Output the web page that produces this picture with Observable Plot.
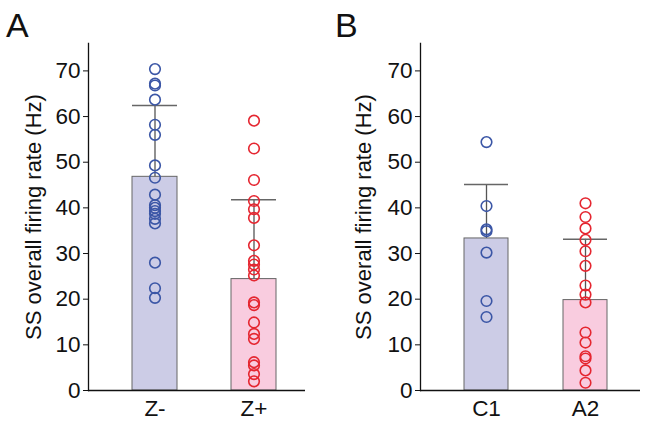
<!DOCTYPE html>
<html>
<head>
<meta charset="utf-8">
<script src="https://cdn.jsdelivr.net/npm/d3@7"></script>
<script src="https://cdn.jsdelivr.net/npm/@observablehq/plot@0.6"></script>
<style>
  body { margin: 0; background: #fff; font-family: "Liberation Sans", Arial, sans-serif; }
  #wrap { position: relative; width: 661px; height: 431px; display: flex; }
  .letter { position: absolute; top: 8px; font-size: 34px; line-height: 1; color: #111; font-family: "Liberation Sans", Arial, sans-serif; }
  svg { display: block; }
</style>
</head>
<body>
<div id="wrap">
  <div class="letter" style="left:6px">A</div>
  <div class="letter" style="left:335px">B</div>
</div>
<script>
// Panel A
const catsA = ["Z-", "Z+"];
const meanA = [46.8, 24.4];
const sdA = [15.6, 17.4];
const zMinus = [70.4, 67.2, 66.8, 63.7, 58.2, 56.0, 49.3, 46.6, 42.9, 40.6, 40.0, 39.3, 38.7, 37.6, 36.6, 28.0, 22.4, 20.3];
const zPlus = [59.1, 53.0, 46.1, 41.5, 39.7, 37.8, 31.8, 28.4, 27.6, 26.5, 25.2, 19.3, 18.7, 14.9, 12.4, 11.3, 6.2, 5.5, 3.6, 2.0];

// Panel B
const catsB = ["C1", "A2"];
const meanB = [33.3, 19.8];
const sdB = [11.8, 13.3];
const c1 = [54.4, 40.4, 35.3, 34.9, 30.2, 19.6, 16.1];
const a2 = [41.0, 38.0, 35.5, 33.0, 30.5, 27.3, 23.0, 21.0, 19.3, 12.7, 10.5, 7.5, 7.0, 4.4, 1.7];

const yTicks = [0, 10, 20, 30, 40, 50, 60, 70];
const yLabel = "SS overall firing rate (Hz)";

const barFills = ["#ccccE6", "#F9CCDF"];
const dotStrokes = ["#3B56A6", "#E52630"];

function panel({cats, means, sds, groups, width, marginLeft, marginRight, paddingInner, paddingOuter, align, labelDx}) {
  const summary = cats.map((c, i) => ({cat: c, mean: means[i], top: means[i] + sds[i], fill: barFills[i]}));
  const pts = [];
  groups.forEach((g, i) => g.forEach(v => pts.push({cat: cats[i], v, stroke: dotStrokes[i]})));
  return Plot.plot({
    width, height: 431,
    marginLeft, marginRight, marginTop: 43, marginBottom: 41,
    style: {fontFamily: "Liberation Sans, Arial, sans-serif", fontSize: "22px", color: "#111", background: "white"},
    x: {domain: cats, paddingInner, paddingOuter, align, label: null},
    y: {domain: [0, 76], label: null},
    marks: [
      Plot.barY(summary, {x: "cat", y: "mean", fill: "fill", stroke: "#666", strokeWidth: 1}),
      Plot.ruleX(summary, {x: "cat", y1: "mean", y2: "top", stroke: "#555", strokeWidth: 1.3}),
      Plot.tickY(summary, {x: "cat", y: "top", stroke: "#666", strokeWidth: 1.5}),
      Plot.dot(pts, {x: "cat", y: "v", r: 5.3, stroke: "stroke", strokeWidth: 1.6, fill: "none"}),
      Plot.ruleY([0], {stroke: "#111", strokeWidth: 1.3}),
      Plot.frame({anchor: "left", stroke: "#111", strokeWidth: 1.3}),
      Plot.axisY({ticks: yTicks, tickSize: 5, tickPadding: 3, label: null, fontSize: 22.5}),
      Plot.axisX({tickSize: 0, tickPadding: 10, label: null, fontSize: 22.5}),
      Plot.text([yLabel], {frameAnchor: "left", textAnchor: "middle", lineAnchor: "middle", rotate: -90, dx: labelDx, fontSize: 22, fill: "#111"})
    ]
  });
}

const wrap = document.getElementById("wrap");
wrap.appendChild(panel({cats: catsA, means: meanA, sds: sdA, groups: [zMinus, zPlus], width: 330, marginLeft: 88, marginRight: 25, paddingInner: 0.548, paddingOuter: 0.364, align: 0.607, labelDx: -55}));
wrap.appendChild(panel({cats: catsB, means: meanB, sds: sdB, groups: [c1, a2], width: 331, marginLeft: 90, marginRight: 21, paddingInner: 0.56, paddingOuter: 0.38, align: 0.566, labelDx: -57}));
</script>
</body>
</html>
